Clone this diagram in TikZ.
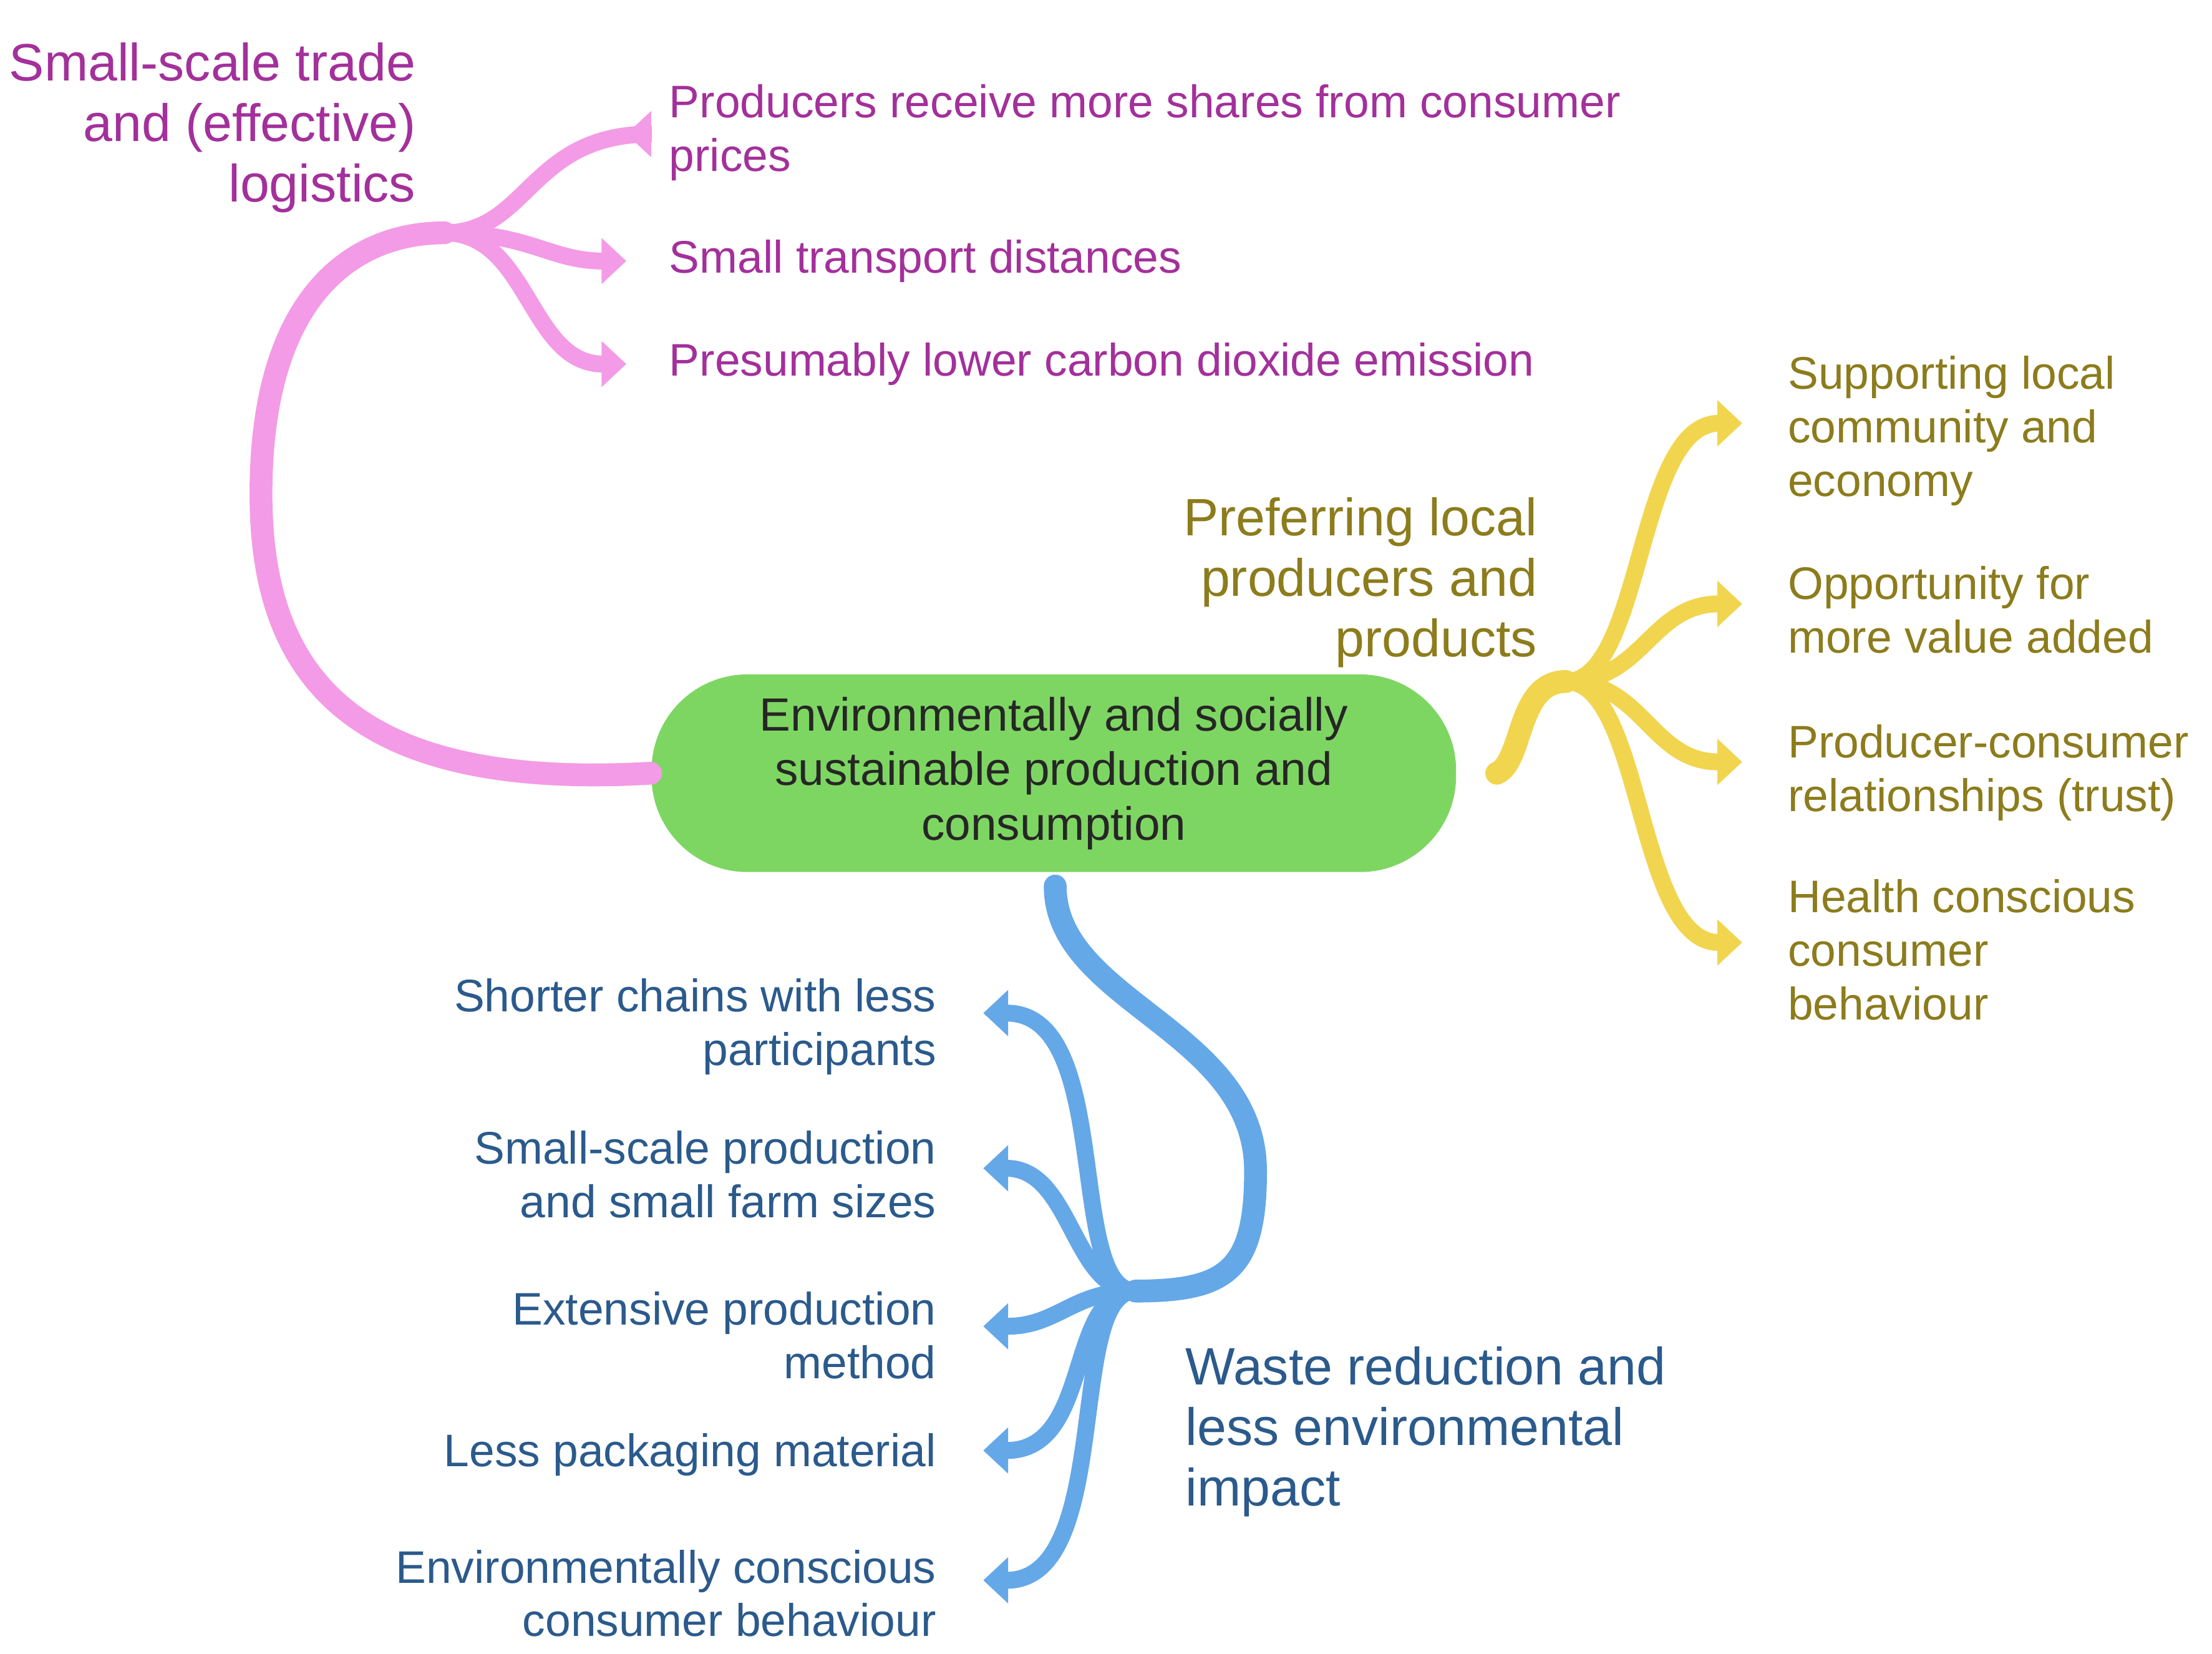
\documentclass[tikz,border=0pt]{standalone}
\usepackage{fontspec}
\setmainfont{Liberation Sans}
\usetikzlibrary{arrows.meta}
\definecolor{pinkl}{HTML}{F39BE6}
\definecolor{pinkt}{HTML}{A3309B}
\definecolor{yell}{HTML}{F2D54E}
\definecolor{yelt}{HTML}{8C7C1C}
\definecolor{bluel}{HTML}{64A8E8}
\definecolor{bluet}{HTML}{2B5A8C}
\definecolor{greenc}{HTML}{7ED662}
\begin{document}
\begin{tikzpicture}[x=0.01cm,y=-0.01cm,
  trunk/.style={line width=4.6pt,line cap=round},
  twig/.style={line width=3.4pt,-{Triangle[length=5pt,width=9pt]}},
  big/.style={font=\fontsize{10.6pt}{12.2pt}\selectfont},
  small/.style={font=\fontsize{9.2pt}{10.8pt}\selectfont}]
\useasboundingbox[fill=white] (0,0) rectangle (1568,1172);
% centre
\node[fill=greenc,rounded corners=0.68cm,minimum width=5.7cm,minimum height=1.4cm,align=center,font=\fontsize{9.4pt}{11pt}\selectfont,text=black!85] (c) at (747,548) {Environmentally and socially\\sustainable production and\\consumption};
% pink
\coordinate (ph) at (315,165);
\draw[pinkl,trunk] (c.west) .. controls (250,560) and (185,480) .. (185,350) .. controls (185,210) and (250,165) .. (ph);
\node[big,text=pinkt,align=right,anchor=north east] (pl) at (307,18) {Small-scale trade\\and (effective)\\logistics};
\node[small,text=pinkt,align=left,anchor=west] (p1) at (462,94) {Producers receive more shares from consumer\\prices};
\node[small,text=pinkt,anchor=west] (p2) at (462,185) {Small transport distances};
\node[small,text=pinkt,anchor=west] (p3) at (462,258) {Presumably lower carbon dioxide emission};
\draw[pinkl,twig] (ph) .. controls (375,165) and (375,95) .. (p1.west |- 0,95) -- ++(-18,0);
\draw[pinkl,twig] (ph) .. controls (375,165) and (390,185) .. ([xshift=-0.18cm]p2.west);
\draw[pinkl,twig] (ph) .. controls (375,165) and (375,258) .. ([xshift=-0.18cm]p3.west);
% yellow
\coordinate (yh) at (1110,483);
\draw[yell,trunk] ([xshift=8]c.east) .. controls (1080,540) and (1075,483) .. (yh);
\node[big,text=yelt,align=right,anchor=north east] (yl) at (1102,340) {Preferring local\\producers and\\products};
\node[small,text=yelt,align=left,anchor=north west] (y1) at (1255,240) {Supporting local\\community and\\economy};
\node[small,text=yelt,align=left,anchor=north west] (y2) at (1255,389) {Opportunity for\\more value added};
\node[small,text=yelt,align=left,anchor=north west] (y3) at (1255,501) {Producer-consumer\\relationships (trust)};
\node[small,text=yelt,align=left,anchor=north west] (y4) at (1255,611) {Health conscious\\consumer\\behaviour};
\draw[yell,twig] (yh) .. controls (1165,483) and (1160,300) .. (1235,300);
\draw[yell,twig] (yh) .. controls (1165,483) and (1170,428) .. (1235,428);
\draw[yell,twig] (yh) .. controls (1165,483) and (1170,540) .. (1235,540);
\draw[yell,twig] (yh) .. controls (1165,483) and (1160,668) .. (1235,668);
% blue
\coordinate (bh) at (805,915);
\draw[bluel,trunk] (748,628) .. controls (748,710) and (890,730) .. (890,830) .. controls (890,900) and (870,915) .. (bh);
\node[big,text=bluet,align=left,anchor=north west] (bl) at (828,942) {Waste reduction and\\less environmental\\impact};
\node[small,text=bluet,align=right,anchor=north east] (b1) at (676,681) {Shorter chains with less\\participants};
\node[small,text=bluet,align=right,anchor=north east] (b2) at (676,789) {Small-scale production\\and small farm sizes};
\node[small,text=bluet,align=right,anchor=north east] (b3) at (676,903) {Extensive production\\method};
\node[small,text=bluet,align=right,anchor=east] (b4) at (676,1031) {Less packaging material};
\node[small,text=bluet,align=right,anchor=north east] (b5) at (676,1086) {Environmentally conscious\\consumer behaviour};
\draw[bluel,twig] (bh) .. controls (755,915) and (790,718) .. (697,718);
\draw[bluel,twig] (bh) .. controls (760,915) and (760,828) .. (697,828);
\draw[bluel,twig] (bh) .. controls (760,915) and (750,940) .. (697,940);
\draw[bluel,twig] (bh) .. controls (755,915) and (775,1028) .. (697,1028);
\draw[bluel,twig] (bh) .. controls (755,915) and (790,1120) .. (697,1120);
\end{tikzpicture}
\end{document}
